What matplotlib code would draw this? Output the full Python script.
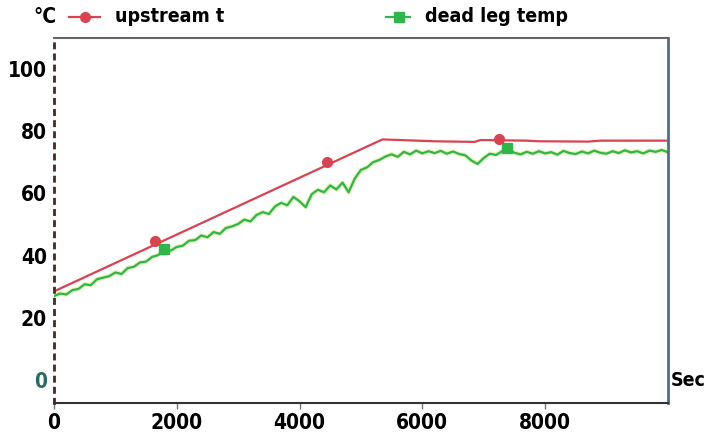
import numpy as np
import matplotlib
matplotlib.use('Agg')
import matplotlib.pyplot as plt

# upstream temperature (polyline through the ramp and plateau)
up_x = [0, 5350, 6200, 6850, 6950, 7700, 7900, 8700, 8900, 10000]
up_y = [28.5, 77.4, 76.8, 76.6, 77.2, 77.0, 76.8, 76.7, 77.0, 77.0]
up_mark_x = [1650, 4450, 7250]
up_mark_y = [44.8, 70.0, 77.4]

# dead leg temperature, read every 100 s
dl_x = list(range(0, 10001, 100))
dl_y = [27.0, 27.8, 27.5, 28.9, 29.3, 30.8, 30.5, 32.4, 32.9, 33.4,
        34.6, 34.1, 36.0, 36.4, 37.8, 38.1, 39.6, 40.2, 42.0, 41.6,
        42.8, 43.2, 44.8, 45.0, 46.5, 45.9, 47.6, 47.0, 48.9, 49.4,
        50.2, 51.6, 51.0, 53.1, 54.0, 53.4, 55.8, 57.0, 56.2, 58.9,
        57.5, 55.6, 59.8, 61.2, 60.4, 62.6, 61.3, 63.5, 60.4, 64.8,
        67.6, 68.4, 70.1, 70.8, 71.9, 72.6, 71.8, 73.4, 72.6, 73.8,
        72.9, 73.6, 73.0, 73.7, 72.8, 73.5, 72.7, 72.3, 70.6, 69.5,
        71.4, 72.8, 72.4, 73.6, 74.2, 73.1, 72.6, 73.4, 72.8, 73.6,
        72.9, 73.3, 72.5, 73.7, 73.0, 72.7, 73.5, 72.9, 73.8, 73.1,
        72.8, 73.6, 73.0, 73.9, 73.2, 73.6, 72.9, 73.8, 73.4, 74.0,
        73.3]
dl_mark_x = [1800, 7380]
dl_mark_y = [42.0, 74.5]

xticks = [0, 2000, 4000, 6000, 8000]
yticks = [0, 20, 40, 60, 80, 100]

red = '#d9434f'
green = '#2fb54a'
fnt = dict(family='DejaVu Sans', fontstretch='condensed', fontweight='bold')

fig = plt.figure(figsize=(7.13, 4.38), dpi=100)
ax = fig.add_axes([0.0757, 0.080, 0.861, 0.833])

ax.plot(dl_x, dl_y, color='#c8e86a', lw=3.2, alpha=0.5)
ax.plot(dl_x, dl_y, color=green, lw=1.6)
ax.plot(dl_mark_x, dl_mark_y, 's', color=green, ms=7)
ax.plot(up_x, up_y, color=red, lw=1.6)
ax.plot(up_mark_x, up_mark_y, 'o', color=red, ms=7)

ax.set_xlim(0, 10000)
ax.set_ylim(-7.4, 110)
ax.set_xticks(xticks)
ax.set_xticklabels([str(t) for t in xticks], fontsize=15, **fnt)
ax.set_yticks(yticks)
ylabels = ax.set_yticklabels([str(t) for t in yticks], fontsize=15, **fnt)
ylabels[0].set_color('#2a6a66')
ax.tick_params(axis='x', length=4, width=1, color='#777777', pad=3)
ax.tick_params(axis='y', length=0, pad=5)

ax.spines['left'].set_linestyle((0, (1.5, 2.5)))
ax.spines['left'].set_color('#4a2626')
ax.spines['left'].set_linewidth(2)
ax.spines['top'].set_color('#666666')
ax.spines['top'].set_linewidth(1.5)
ax.spines['right'].set_color('#4d6f8c')
ax.spines['right'].set_linewidth(2)
ax.spines['bottom'].set_color('#333333')
ax.spines['bottom'].set_linewidth(1.5)

# header legend
ly = 1 - 17 / 438
fig.text(33 / 713, ly, '°C', fontsize=15, va='center', ha='left', **fnt)
fig.add_artist(plt.Line2D([69 / 713, 100 / 713], [ly, ly], color=red, lw=1.6))
fig.add_artist(plt.Line2D([85 / 713], [ly], color=red, marker='o', ms=7, lw=0))
fig.text(115 / 713, ly, 'upstream t', fontsize=14, va='center', ha='left', **fnt)
fig.add_artist(plt.Line2D([386 / 713, 410 / 713], [ly, ly], color=green, lw=1.6))
fig.add_artist(plt.Line2D([399 / 713], [ly], color=green, marker='s', ms=7, lw=0))
fig.text(425 / 713, ly, 'dead leg temp', fontsize=14, va='center', ha='left', **fnt)
fig.text(671 / 713, 1 - 381 / 438, 'Sec', fontsize=14, va='center', ha='left', **fnt)

fig.savefig('out.png', dpi=100)
